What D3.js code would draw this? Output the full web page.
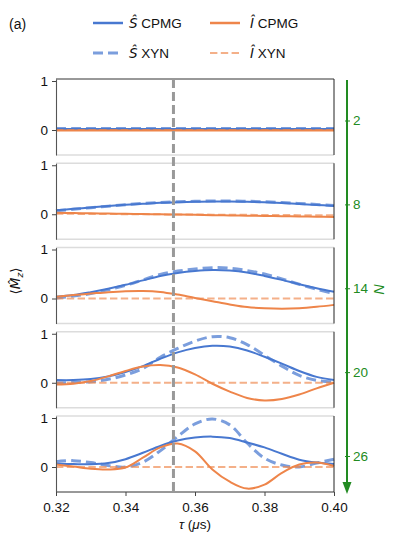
<!DOCTYPE html>
<html>
<head>
<meta charset="utf-8">
<script src="https://cdn.jsdelivr.net/npm/d3@7"></script>
<style>
  body { margin: 0; background: #fff; }
  text { font-family: "Liberation Sans", Arial, sans-serif; }
</style>
</head>
<body>
<svg width="397" height="543"></svg>
<script>
// pulse spacing tau (us)
const tau = [0.32, 0.325, 0.33, 0.335, 0.34, 0.345, 0.35, 0.355, 0.36,
             0.365, 0.37, 0.375, 0.38, 0.385, 0.39, 0.395, 0.40];

// number of pulses, one panel each
const nValues = [2, 8, 14, 20, 26];

// resonance position
const tauRes = 0.3538;

// <S_z> for CPMG, one row per N
const sCpmg = [
  [0.02, 0.02, 0.02, 0.02, 0.02, 0.02, 0.02, 0.02, 0.02, 0.02, 0.02, 0.02, 0.02, 0.02, 0.02, 0.02, 0.02],
  [0.08, 0.11, 0.14, 0.17, 0.195, 0.215, 0.235, 0.245, 0.255, 0.26, 0.26, 0.255, 0.245, 0.23, 0.21, 0.19, 0.17],
  [0.035, 0.07, 0.13, 0.2, 0.28, 0.37, 0.46, 0.52, 0.56, 0.58, 0.57, 0.53, 0.46, 0.38, 0.29, 0.21, 0.14],
  [0.055, 0.055, 0.075, 0.13, 0.22, 0.34, 0.49, 0.62, 0.71, 0.755, 0.74, 0.66, 0.53, 0.39, 0.24, 0.12, 0.055],
  [0.07, 0.06, 0.055, 0.08, 0.16, 0.29, 0.43, 0.54, 0.6, 0.62, 0.59, 0.5, 0.4, 0.27, 0.15, 0.09, 0.06]
];

// <S_z> for XYN
const sXyn = [
  [0.03, 0.03, 0.03, 0.03, 0.03, 0.03, 0.03, 0.03, 0.03, 0.03, 0.03, 0.03, 0.03, 0.03, 0.03, 0.03, 0.03],
  [0.07, 0.10, 0.135, 0.165, 0.195, 0.22, 0.24, 0.255, 0.265, 0.27, 0.27, 0.265, 0.255, 0.24, 0.22, 0.2, 0.18],
  [0.01, 0.05, 0.1, 0.18, 0.27, 0.38, 0.49, 0.56, 0.6, 0.63, 0.62, 0.57, 0.5, 0.4, 0.29, 0.19, 0.1],
  [0.0, 0.005, 0.02, 0.07, 0.16, 0.29, 0.52, 0.7, 0.85, 0.94, 0.92, 0.78, 0.56, 0.34, 0.15, 0.05, 0.015],
  [0.11, 0.13, 0.09, 0.03, 0.0, 0.1, 0.33, 0.62, 0.88, 0.98, 0.86, 0.49, 0.18, 0.04, 0.0, 0.08, 0.16]
];

// <I_z> for CPMG
const iCpmg = [
  [-0.01, -0.01, -0.01, -0.01, -0.01, -0.01, -0.01, -0.01, -0.01, -0.01, -0.01, -0.01, -0.01, -0.01, -0.01, -0.01, -0.01],
  [0.03, 0.025, 0.02, 0.015, 0.01, 0.005, 0.0, -0.005, -0.01, -0.018, -0.025, -0.03, -0.035, -0.04, -0.045, -0.05, -0.055],
  [0.035, 0.07, 0.1, 0.13, 0.15, 0.155, 0.135, 0.08, 0.01, -0.055, -0.12, -0.175, -0.2, -0.21, -0.2, -0.17, -0.13],
  [-0.035, -0.02, 0.035, 0.13, 0.24, 0.33, 0.36, 0.31, 0.17, -0.02, -0.18, -0.31, -0.36, -0.33, -0.24, -0.115, 0.0],
  [0.05, 0.01, -0.035, -0.05, -0.01, 0.19, 0.4, 0.48, 0.32, -0.05, -0.3, -0.44, -0.36, -0.12, 0.05, 0.09, 0.02]
];

// <I_z> for XYN
const iXyn = [
  [0.0, 0.0, 0.0, 0.0, 0.0, 0.0, 0.0, 0.0, 0.0, 0.0, 0.0, 0.0, 0.0, 0.0, 0.0, 0.0, 0.0],
  [0.01, 0.008, 0.006, 0.004, 0.002, 0.0, -0.002, -0.004, -0.006, -0.008, -0.01, -0.012, -0.014, -0.016, -0.018, -0.02, -0.022],
  [0.0, 0.0, 0.0, 0.0, 0.0, 0.0, 0.0, 0.0, 0.0, 0.0, 0.0, 0.0, 0.0, 0.0, 0.0, 0.0, 0.0],
  [0.0, 0.0, 0.0, 0.0, 0.0, 0.0, 0.0, 0.0, 0.0, 0.0, 0.0, 0.0, 0.0, 0.0, 0.0, 0.0, 0.0],
  [0.0, 0.0, 0.0, 0.0, 0.0, 0.0, 0.0, 0.0, 0.0, 0.0, 0.0, 0.0, 0.0, 0.0, 0.0, 0.0, 0.0]
];

const xTicks = [0.32, 0.34, 0.36, 0.38, 0.40];
const yTicks = [0, 1];

const blue = '#4878d0';
const orange = '#ee854a';
const green = '#228b22';

// plot order matches the legend columns
const series = [
  { key: 'sCpmg', data: sCpmg, color: blue, width: 2, dash: null, opacity: 1 },
  { key: 'sXyn', data: sXyn, color: blue, width: 3, dash: '10,5', opacity: 0.72 },
  { key: 'iCpmg', data: iCpmg, color: orange, width: 2, dash: null, opacity: 1 },
  { key: 'iXyn', data: iXyn, color: orange, width: 2, dash: '7.4,3.4', opacity: 0.65 }
];

const svg = d3.select('svg');

const margin = { left: 56, right: 63, top: 79 };
const width = 397 - margin.left - margin.right;
const panelH = 76;
const panelStep = 84.25;
const fontSize = '13.5px';

const xScale = d3.scaleLinear().domain([0.32, 0.40]).range([margin.left, margin.left + width]);
const yScale = d3.scaleLinear().domain([-0.51, 1.041]).range([panelH, 0]);

const line = d3.line()
  .x(d => xScale(d[0]))
  .y(d => yScale(d[1]))
  .curve(d3.curveCatmullRom.alpha(0.5));

nValues.forEach(function(n, p) {
  const top = margin.top + p * panelStep;
  const g = svg.append('g').attr('transform', `translate(0,${top})`);

  // curves
  series.forEach(function(s) {
    g.append('path')
      .datum(tau.map((t, i) => [t, s.data[p][i]]))
      .attr('d', line)
      .attr('fill', 'none')
      .attr('stroke', s.color)
      .attr('stroke-width', s.width)
      .attr('stroke-opacity', s.opacity)
      .attr('stroke-dasharray', s.dash);
  });

  // top / bottom spines: dark on the outside, light between panels
  g.append('line')
    .attr('x1', margin.left).attr('x2', margin.left + width)
    .attr('y1', 0).attr('y2', 0)
    .attr('stroke', p === 0 ? '#333' : '#dcdcdc')
    .attr('stroke-width', p === 0 ? 1 : 1.3);
  g.append('line')
    .attr('x1', margin.left).attr('x2', margin.left + width)
    .attr('y1', panelH).attr('y2', panelH)
    .attr('stroke', p === nValues.length - 1 ? '#333' : '#dcdcdc')
    .attr('stroke-width', p === nValues.length - 1 ? 1 : 1.3);

  // right spine
  g.append('line')
    .attr('x1', margin.left + width).attr('x2', margin.left + width)
    .attr('y1', 0).attr('y2', panelH)
    .attr('stroke', '#222');

  // left axis
  const ya = g.append('g')
    .attr('transform', `translate(${margin.left},0)`)
    .call(d3.axisLeft(yScale).tickValues(yTicks).tickFormat(d3.format('d'))
      .tickSize(4).tickSizeOuter(0).tickPadding(4));
  ya.select('.domain').attr('stroke', '#555').attr('stroke-width', 1.1);
  ya.selectAll('.tick line').attr('stroke', '#444');
  ya.selectAll('text').style('font-size', fontSize).attr('fill', '#111')
    .style('font-family', '"Liberation Sans", Arial, sans-serif');

  // bottom axis on the last panel
  if (p === nValues.length - 1) {
    const xa = g.append('g')
      .attr('transform', `translate(0,${panelH})`)
      .call(d3.axisBottom(xScale).tickValues(xTicks).tickFormat(d3.format('.2f'))
        .tickSize(4).tickSizeOuter(0).tickPadding(6));
    xa.select('.domain').remove();
    xa.selectAll('.tick line').attr('stroke', '#444');
    xa.selectAll('text').style('font-size', fontSize).attr('fill', '#111')
      .style('font-family', '"Liberation Sans", Arial, sans-serif');
  }
});

// resonance marker
svg.append('line')
  .attr('x1', xScale(tauRes)).attr('x2', xScale(tauRes))
  .attr('y1', margin.top).attr('y2', margin.top + 4 * panelStep + panelH)
  .attr('stroke', '#999')
  .attr('stroke-width', 3)
  .attr('stroke-dasharray', '9,4');

// x label
const xl = svg.append('text')
  .attr('x', xScale(0.36))
  .attr('y', 529)
  .attr('text-anchor', 'middle')
  .style('font-size', fontSize)
  .attr('fill', '#111');
xl.append('tspan').style('font-style', 'italic').text('τ');
xl.append('tspan').text(' (');
xl.append('tspan').style('font-style', 'italic').text('μ');
xl.append('tspan').text('s)');

// y label
const yl = svg.append('text')
  .attr('transform', 'translate(20,281) rotate(-90)')
  .attr('text-anchor', 'middle')
  .style('font-size', fontSize)
  .style('font-family', '"DejaVu Sans", sans-serif')
  .attr('fill', '#111');
yl.append('tspan').text('⟨');
yl.append('tspan').style('font-style', 'italic').text('M\u0302');
yl.append('tspan').style('font-style', 'italic').style('font-size', '9px').attr('dy', 3).text('z');
yl.append('tspan').attr('dy', -3).text('⟩');

// N axis with arrow on the right
const nScale = d3.scaleLinear().domain([2, 26]).range([120.5, 456]);
const axX = 347;
const nAxis = svg.append('g').attr('transform', `translate(${axX},0)`);
nAxis.append('line')
  .attr('x1', 0).attr('x2', 0)
  .attr('y1', 80).attr('y2', 485)
  .attr('stroke', green)
  .attr('stroke-width', 2);
nAxis.append('path')
  .attr('d', 'M-4.5,482 L4.5,482 L0,494 Z')
  .attr('fill', green);
const nTicks = nAxis.append('g')
  .call(d3.axisRight(nScale).tickValues(nValues).tickSize(3).tickPadding(3));
nTicks.select('.domain').remove();
nTicks.selectAll('.tick line').attr('x1', -2).attr('stroke', green);
nTicks.selectAll('text').style('font-size', fontSize).attr('fill', green)
  .style('font-family', '"Liberation Sans", Arial, sans-serif');

svg.append('text')
  .attr('transform', 'translate(379,289) rotate(90)')
  .attr('text-anchor', 'middle')
  .attr('dominant-baseline', 'central')
  .style('font-size', '14px')
  .style('font-style', 'italic')
  .attr('fill', green)
  .text('N');

// panel tag
svg.append('text')
  .attr('x', 9).attr('y', 29)
  .style('font-size', '14px')
  .attr('fill', '#111')
  .text('(a)');

// legend
const legendItems = [
  { op: 'S\u0302', method: 'CPMG', s: series[0], x: 93, y: 23 },
  { op: 'S\u0302', method: 'XYN', s: series[1], x: 93, y: 53 },
  { op: 'I\u0302', method: 'CPMG', s: series[2], x: 210, y: 23 },
  { op: 'I\u0302', method: 'XYN', s: series[3], x: 210, y: 53 }
];
const legend = svg.append('g').selectAll('g')
  .data(legendItems)
  .enter()
  .append('g')
  .attr('transform', d => `translate(${d.x},${d.y})`);
legend.append('line')
  .attr('x1', 0).attr('x2', 30)
  .attr('y1', 0).attr('y2', 0)
  .attr('stroke', d => d.s.color)
  .attr('stroke-width', d => d.s.dash ? d.s.width : 2.5)
  .attr('stroke-opacity', d => d.s.opacity)
  .attr('stroke-dasharray', d => d.s.dash);
const lt = legend.append('text')
  .attr('x', d => d.op[0] === 'S' ? 36 : 40)
  .attr('y', 5)
  .style('font-size', fontSize)
  .attr('fill', '#111');
lt.append('tspan').style('font-style', 'italic')
  .style('font-family', '"DejaVu Sans", sans-serif')
  .text(d => d.op);
lt.append('tspan').text(d => ' ' + d.method);
</script>
</body>
</html>
